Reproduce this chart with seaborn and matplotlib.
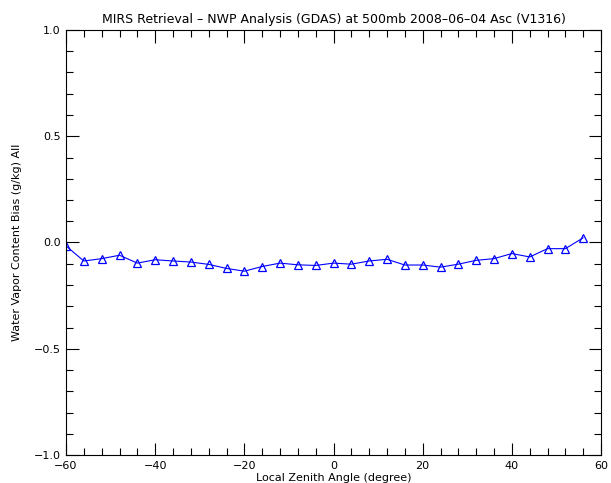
import matplotlib
matplotlib.use("Agg")
import matplotlib.pyplot as plt
import seaborn as sns
import pandas as pd
from matplotlib.ticker import MultipleLocator

angles = [-60, -56, -52, -48, -44, -40, -36, -32, -28, -24, -20, -16, -12, -8, -4,
          0, 4, 8, 12, 16, 20, 24, 28, 32, 36, 40, 44, 48, 52, 56]
bias = [-0.016, -0.087, -0.076, -0.060, -0.097, -0.081, -0.087, -0.092, -0.103, -0.122,
        -0.135, -0.113, -0.097, -0.105, -0.108,
        -0.097, -0.102, -0.087, -0.079, -0.106, -0.106, -0.116, -0.102, -0.084, -0.076,
        -0.052, -0.068, -0.029, -0.029, 0.022]

title = "MIRS Retrieval \u2013 NWP Analysis (GDAS) at 500mb 2008\u201306\u201304 Asc (V1316)"
xlabel = "Local Zenith Angle (degree)"
ylabel = "Water Vapor Content Bias (g/kg) All"

sns.set_style("ticks")
plt.rcParams['font.family'] = ['DejaVu Sans']
plt.rcParams['text.color'] = 'black'
plt.rcParams['axes.labelcolor'] = 'black'

df = pd.DataFrame({"angle": angles, "bias": bias})

fig = plt.figure(figsize=(6.11, 4.83), dpi=100)
ax = fig.add_axes([66/611, 1-455/483, (601-66)/611, (455-30)/483])

sns.lineplot(data=df, x="angle", y="bias", ax=ax, color="#0000ff", linewidth=0.8,
             marker="^", markersize=5.5, markerfacecolor="none", markeredgecolor="#0000ff",
             markeredgewidth=0.9)

ax.set_xlim(-60, 60)
ax.set_ylim(-1, 1)
ax.xaxis.set_major_locator(MultipleLocator(20))
ax.xaxis.set_minor_locator(MultipleLocator(4))
ax.yaxis.set_major_locator(MultipleLocator(0.5))
ax.yaxis.set_minor_locator(MultipleLocator(0.1))
ax.xaxis.set_major_formatter(matplotlib.ticker.FuncFormatter(lambda v, p: f"{int(v)}".replace("-", "\u2212")))
ax.yaxis.set_major_formatter(matplotlib.ticker.FuncFormatter(lambda v, p: f"{v:.1f}".replace("-", "\u2212")))

ax.tick_params(which="both", direction="in", top=True, right=True, color="black",
               labelcolor="black")
ax.tick_params(which="major", length=9, width=0.8, labelsize=8, pad=4)
ax.tick_params(which="minor", length=5, width=0.8)
for s in ax.spines.values():
    s.set_linewidth(0.8)
    s.set_color("black")

ax.set_xlabel(xlabel, fontsize=8, labelpad=2, color="black")
ax.set_ylabel(ylabel, fontsize=8, labelpad=8, color="black")
ax.set_title(title, fontsize=9, pad=5, color="black")

fig.savefig("out.png", dpi=100, facecolor="white")
